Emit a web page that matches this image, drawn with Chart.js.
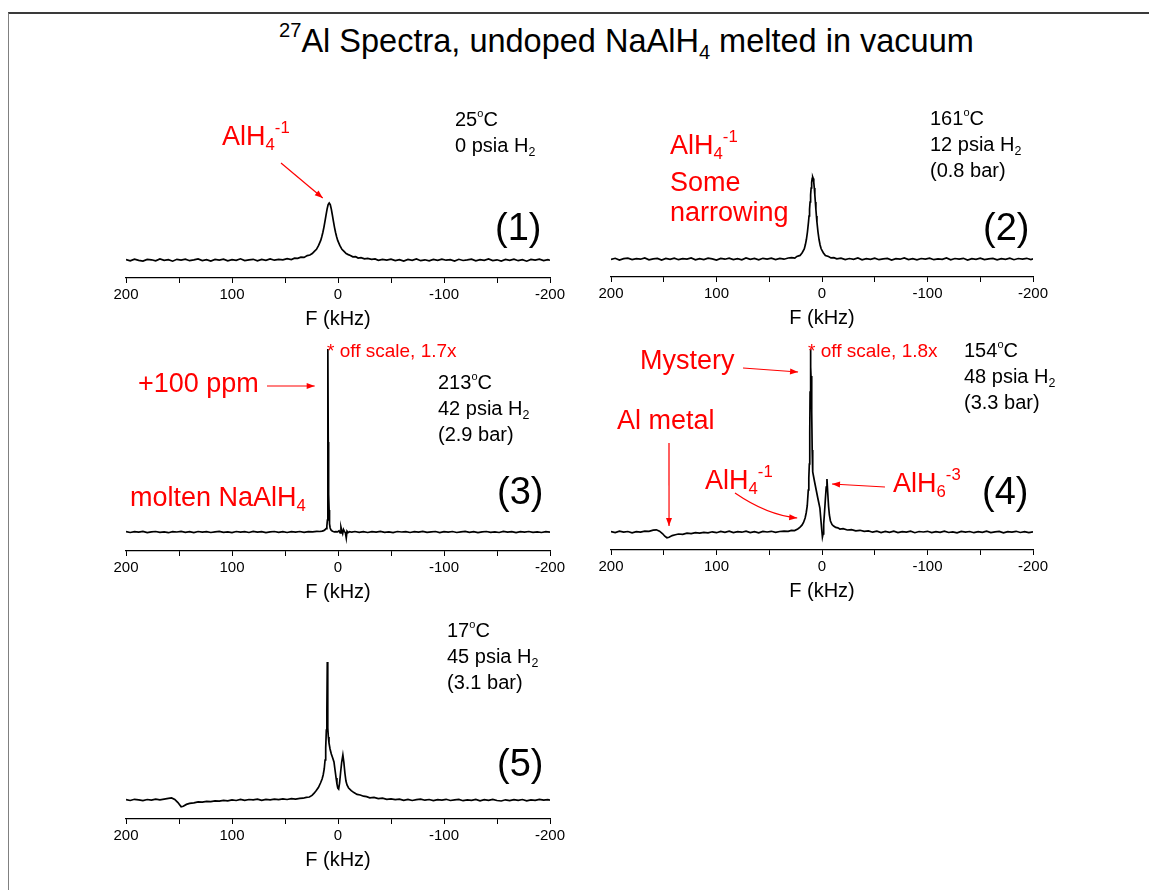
<!DOCTYPE html>
<html><head><meta charset="utf-8">
<script src="https://cdn.jsdelivr.net/npm/chart.js@4.4.1/dist/chart.umd.min.js"></script>
<style>
html,body{margin:0;padding:0;background:#fff;}
#page{position:relative;width:1149px;height:890px;overflow:hidden;font-family:"Liberation Sans",Arial,sans-serif;background:#fff;}
canvas{position:absolute;}
.t{position:absolute;white-space:nowrap;line-height:1;}
.sub{font-size:0.62em;position:relative;top:0.32em;}
.sup{font-size:0.62em;position:relative;top:-0.75em;}
.deg{font-size:0.55em;position:relative;top:-0.85em;}
#frame{position:absolute;left:8px;top:12px;width:1141px;height:878px;border-top:2px solid #3a3a3a;border-left:1px solid #808080;}
</style></head><body><div id="page"><div id="frame"></div></div>
<script>
// ---------- data: frequency (kHz), intensity (arb.) ----------
const spec1 = [[200,0.5],[196,-0.8],[192,0.9],[188,-0.3],[184,-1.1],[180,0.6],[176,0.2],[172,-0.9],[168,1.0],[164,-0.4],[160,0.3],[156,-1.2],[152,0.7],[148,-0.2],[144,0.8],[140,-0.7],[136,0.1],[132,1.1],[128,-0.5],[124,0.4],[120,-1.0],[116,0.6],[112,-0.1],[108,0.9],[104,-0.8],[100,0.3],[96,-0.4],[92,1.2],[88,-0.6],[84,0.2],[80,0.7],[76,-0.9],[72,0.5],[68,-0.3],[64,1.0],[60,-0.2],[56,0.6],[52,0.1],[48,1.4],[44,0.5],[41,1.8],[38,1.6],[35,2.9],[32,2.6],[29,4.4],[26.5,5.0],[24.3,6.4],[22.3,8.6],[20.3,10.7],[18.3,14.6],[16.3,19.6],[15.3,23.2],[14.3,27.5],[13.3,32.7],[12.3,38.6],[11.3,44.9],[10.3,50.9],[9.3,55.4],[8.3,57],[7.3,55.4],[6.3,50.9],[5.3,44.9],[4.3,38.6],[3.3,32.7],[2.3,27.5],[1.3,23.2],[0.3,19.6],[-1.7,14.6],[-3.7,10.7],[-5.7,8.6],[-7.7,6.4],[-9.7,5.4],[-11.7,4.6],[-14,3.2],[-16.7,3.3],[-19,2.0],[-21.7,2.4],[-25,1.1],[-28,1.6],[-31.7,0.6],[-35,1.1],[-38,-0.3],[-42,0.7],[-46,-0.2],[-50,0.8],[-54,-0.6],[-58,0.4],[-62,-1.0],[-66,0.5],[-70,-0.3],[-74,1.0],[-78,-0.7],[-82,0.2],[-86,-0.9],[-90,0.6],[-94,-0.4],[-98,0.9],[-102,-0.2],[-106,0.3],[-110,-1.1],[-114,0.7],[-118,-0.5],[-122,0.1],[-126,0.8],[-130,-0.8],[-134,0.4],[-138,-0.3],[-142,1.0],[-146,-0.6],[-150,0.2],[-154,-1.0],[-158,0.5],[-162,-0.4],[-166,0.9],[-170,-0.7],[-174,0.3],[-178,-1.2],[-182,0.6],[-186,-0.1],[-190,0.8],[-194,-0.5],[-198,0.4],[-200,-0.3]];

const spec2 = [[200,-0.4],[196,0.7],[192,-1.0],[188,0.3],[184,0.9],[180,-0.6],[176,0.4],[172,-0.2],[168,1.1],[164,-0.8],[160,0.2],[156,0.6],[152,-1.1],[148,0.5],[144,-0.3],[140,0.9],[136,-0.7],[132,0.3],[128,-0.1],[124,1.0],[120,-0.9],[116,0.4],[112,-0.5],[108,0.8],[104,0.1],[100,-1.0],[96,0.6],[92,-0.2],[88,0.9],[84,-0.6],[80,0.3],[76,-0.8],[72,1.1],[68,-0.3],[64,0.5],[60,-0.9],[56,0.7],[52,-0.1],[48,0.8],[44,-0.5],[40,0.6],[36,-0.2],[32,1.0],[28.8,1.3],[25.8,0.9],[23.8,2.6],[20.8,3.6],[18.8,6.3],[16.8,10.0],[15.8,14.2],[14.8,19.5],[13.8,27],[12.8,37],[12.3,43],[11.8,49.8],[11.3,57],[10.8,64.3],[10.3,71],[9.8,76.7],[9.3,80.6],[8.8,82],[8.3,80.6],[7.8,76.7],[7.3,71],[6.8,64.3],[6.3,57],[5.8,49.8],[5.3,43],[4.8,37],[3.8,27],[2.8,19.5],[1.8,14],[0.8,10.2],[-1.2,6.3],[-3.2,3.5],[-6.2,2.5],[-8.5,1.1],[-11.2,1.4],[-14,0.2],[-18,0.9],[-22,-0.6],[-26,0.5],[-30,-0.4],[-34,1.0],[-38,-0.8],[-42,0.3],[-46,-0.3],[-50,0.9],[-54,-0.7],[-58,0.2],[-62,0.6],[-66,-1.0],[-70,0.4],[-74,-0.2],[-78,1.1],[-82,-0.6],[-86,0.3],[-90,-0.9],[-94,0.5],[-98,-0.1],[-102,0.8],[-106,-0.7],[-110,0.2],[-114,-0.4],[-118,1.0],[-122,-0.8],[-126,0.5],[-130,-0.2],[-134,0.7],[-138,-1.0],[-142,0.4],[-146,-0.3],[-150,0.9],[-154,-0.6],[-158,0.1],[-162,0.6],[-166,-0.9],[-170,0.3],[-174,-0.4],[-178,0.8],[-182,-0.7],[-186,0.5],[-190,-0.2],[-194,0.7],[-198,-0.5],[-200,0.2]];

const spec3 = [[200,0.3],[196,-0.5],[192,0.4],[188,-0.2],[184,0.6],[180,-0.6],[176,0.1],[172,0.5],[168,-0.4],[164,0.2],[160,-0.7],[156,0.4],[152,0.0],[148,0.6],[144,-0.3],[140,0.3],[136,-0.6],[132,0.5],[128,-0.1],[124,0.4],[120,-0.5],[116,0.2],[112,0.6],[108,-0.4],[104,0.1],[100,-0.6],[96,0.5],[92,-0.2],[88,0.3],[84,-0.5],[80,0.6],[76,-0.1],[72,0.4],[68,-0.6],[64,0.2],[60,0.5],[56,-0.3],[52,0.3],[48,-0.5],[44,0.4],[40,-0.1],[36,0.5],[32,-0.3],[28,0.4],[24,0.2],[20,0.6],[17,0.5],[15,0.9],[13.5,1.4],[12.3,2.2],[11.3,3.4],[10.5,6],[10.0,12],[9.7,40],[9.45,183],[9.2,90],[9.0,42],[8.7,38],[8.4,22],[8.0,8],[7.4,4],[6.6,2],[5.5,1],[4.5,0.5],[3.5,0.2],[2,0.4],[0.5,0.1],[-1,1.2],[-2,-0.8],[-2.8,4.8],[-3.6,1.2],[-4.4,-1.6],[-5.2,2.4],[-6,0.6],[-7,-0.8],[-7.8,-6],[-8.5,0.8],[-9.5,-0.6],[-11,0.4],[-13,-0.2],[-16,0.5],[-20,-0.4],[-24,0.3],[-28,-0.5],[-32,0.4],[-36,-0.2],[-40,0.6],[-44,-0.4],[-48,0.2],[-52,-0.6],[-56,0.5],[-60,0.0],[-64,0.4],[-68,-0.5],[-72,0.3],[-76,-0.2],[-80,0.6],[-84,-0.4],[-88,0.1],[-92,0.5],[-96,-0.6],[-100,0.3],[-104,-0.1],[-108,0.5],[-112,-0.5],[-116,0.2],[-120,0.6],[-124,-0.3],[-128,0.4],[-132,-0.6],[-136,0.2],[-140,0.5],[-144,-0.4],[-148,0.1],[-152,-0.5],[-156,0.6],[-160,-0.2],[-164,0.4],[-168,-0.6],[-172,0.3],[-176,-0.1],[-180,0.5],[-184,-0.4],[-188,0.2],[-192,-0.5],[-196,0.4],[-200,-0.2]];

const spec4 = [[200,0.4],[196,-0.6],[192,0.8],[188,-0.2],[184,0.5],[180,-0.8],[176,0.3],[172,-0.1],[168,0.9],[164,0.6],[160,1.8],[157,2.2],[154,0.8],[151,-1.8],[149,-4.2],[147,-5.8],[145,-5.2],[142,-3.6],[139,-2.8],[136,-2.0],[132,-2.3],[128,-1.2],[124,-1.6],[120,-0.6],[116,-1.2],[112,-0.3],[108,-0.9],[104,0.2],[100,-0.7],[96,0.5],[92,-0.4],[88,0.8],[84,-0.6],[80,0.3],[76,-0.2],[72,0.9],[68,-0.5],[64,0.4],[60,-0.8],[56,0.6],[52,0.0],[48,0.7],[44,-0.4],[40,0.5],[36,0.9],[32,0.6],[29,1.6],[26,1.4],[23,3.0],[21,4.6],[19,6.8],[17.5,9.5],[16,14],[15,19],[14,26],[13,42],[12.5,54],[12,68],[11.6,100],[11.3,140],[11,175],[10.8,183],[10.5,165],[10.2,150],[9.9,156],[9.6,120],[9.3,82],[9,66],[8.6,60],[7,50],[5.5,42],[4,34],[3,29],[2,24],[1.2,14],[0.4,4],[-0.4,-5],[-1.0,-2],[-1.6,8],[-2.4,20],[-3.2,33],[-4,45],[-4.7,53],[-5.4,40],[-6.2,26],[-7,17],[-8,11],[-9.5,7.5],[-11,6.0],[-13,4.6],[-15,4.2],[-17,3.0],[-20,3.4],[-24,2.0],[-28,2.4],[-32,1.2],[-36,1.7],[-40,0.6],[-44,1.1],[-48,-0.2],[-52,0.8],[-56,-0.5],[-60,0.6],[-64,-0.3],[-68,0.9],[-72,-0.6],[-76,0.3],[-80,-0.2],[-84,0.8],[-88,-0.7],[-92,0.5],[-96,0.0],[-100,0.7],[-104,-0.6],[-108,0.4],[-112,-0.3],[-116,0.9],[-120,-0.5],[-124,0.2],[-128,-0.8],[-132,0.6],[-136,-0.1],[-140,0.5],[-144,-0.7],[-148,0.3],[-152,-0.4],[-156,0.8],[-160,-0.6],[-164,0.2],[-168,0.6],[-172,-0.8],[-176,0.4],[-180,-0.2],[-184,0.7],[-188,-0.5],[-192,0.3],[-196,-0.6],[-200,0.1]];

const spec5 = [[200,0.3],[196,-0.5],[192,0.7],[188,0.1],[184,-0.6],[180,0.5],[176,-0.2],[172,0.8],[168,0.2],[164,0.9],[160,1.6],[157,2.1],[154,0.6],[151,-2.6],[148,-6.8],[146,-6.2],[143,-4.4],[140,-3.4],[136,-2.8],[132,-1.9],[128,-2.2],[124,-1.3],[120,-1.6],[116,-0.8],[112,-1.1],[108,-0.3],[104,-0.8],[100,0.2],[96,-0.5],[92,0.6],[88,-0.3],[84,0.5],[80,0.1],[76,0.8],[72,-0.4],[68,0.6],[64,0.2],[60,0.9],[56,0.4],[52,1.1],[48,0.5],[44,1.3],[40,0.9],[36,1.6],[33,1.8],[30,2.6],[27,3.0],[24.5,4.6],[22.5,6.8],[20.5,9.5],[18.5,12.5],[16.5,17],[15,21],[14,25],[13,31],[12.2,40],[11.6,52],[11,70],[10.5,90],[10.1,138],[9.8,110],[9.5,72],[9.1,63],[8.5,57],[7.5,51],[6.3,46],[5,42],[3.8,38],[2.8,30],[1.8,22],[1,16],[0.2,12],[-0.6,11],[-1.5,17],[-2.5,28],[-3.5,38],[-4.6,45],[-5.5,38],[-6.5,27],[-7.5,19],[-8.5,15],[-10,12],[-12.5,9.3],[-15,7.4],[-18,5.6],[-21,5.0],[-24,3.8],[-27,3.4],[-30,2.2],[-34,2.6],[-38,1.4],[-42,1.8],[-46,0.7],[-50,1.2],[-54,0.3],[-58,0.9],[-62,-0.3],[-66,0.6],[-70,-0.5],[-74,0.4],[-78,0.9],[-82,-0.2],[-86,0.5],[-90,-0.6],[-94,0.3],[-98,-0.1],[-102,0.7],[-106,-0.5],[-110,0.2],[-114,0.6],[-118,-0.7],[-122,0.1],[-126,-0.4],[-130,0.5],[-134,-0.8],[-138,0.3],[-142,-0.3],[-146,0.6],[-150,-0.5],[-154,-1.0],[-158,0.2],[-162,-0.6],[-166,0.4],[-170,-0.3],[-174,0.5],[-178,-0.8],[-182,0.1],[-186,-0.4],[-190,0.6],[-194,-0.2],[-198,0.4],[-200,-0.1]];

const xTickValues = [200, 100, 0, -100, -200];
const xAxisTitle = 'F (kHz)';

const RED = '#ff0000';
const FONT = '"Liberation Sans", Arial, Helvetica, sans-serif';

// arrows: tail in page pixels (fx,fy), optional curve control (cx,cy), head in data units (tx,ty)
const panels = [
  {data: spec1, left:106, top:100, width:464, areaH:178, yMin:-18, yMax:160,
   arrows:[{fx:281, fy:163, tx:14.4, ty:62}]},
  {data: spec2, left:591, top:100, width:462, areaH:177, yMin:-18, yMax:159, arrows:[]},
  {data: spec3, left:106, top:340, width:464, areaH:211, yMin:-19, yMax:192,
   arrows:[{fx:267, fy:386, tx:22, ty:146}]},
  {data: spec4, left:591, top:340, width:462, areaH:210, yMin:-18, yMax:192,
   arrows:[{fx:743, fy:368, tx:22.7, ty:160},
           {fx:669, fy:443, tx:145, ty:6},
           {fx:735, fy:493, cx:767, cy:515, tx:23.5, ty:14},
           {fx:885, fy:487, tx:-9.5, ty:48}]},
  {data: spec5, left:106, top:610, width:464, areaH:209, yMin:-19, yMax:190, arrows:[]}
];

const labels = [
  {h:'<span class="sup">27</span>Al Spectra, undoped NaAlH<span class="sub">4</span> melted in vacuum', x:279, b:53, s:32.5, c:'#000'},
  {h:'AlH<span class="sub">4</span><span class="sup">-1</span>', x:222, b:146, s:27, c:RED},
  {h:'25<span class="deg">o</span>C', x:455, b:126, s:20, c:'#000'},
  {h:'0 psia H<span class="sub">2</span>', x:455, b:152, s:20, c:'#000'},
  {h:'(1)', x:495, b:240, s:38, c:'#000'},
  {h:'AlH<span class="sub">4</span><span class="sup">-1</span>', x:670, b:155, s:27, c:RED},
  {h:'Some', x:670, b:192, s:27, c:RED},
  {h:'narrowing', x:670, b:222, s:27, c:RED},
  {h:'161<span class="deg">o</span>C', x:930, b:125, s:20, c:'#000'},
  {h:'12 psia H<span class="sub">2</span>', x:930, b:151, s:20, c:'#000'},
  {h:'(0.8 bar)', x:930, b:177, s:20, c:'#000'},
  {h:'(2)', x:983, b:240, s:38, c:'#000'},
  {h:'* off scale, 1.7x', x:327, b:357, s:19, c:RED},
  {h:'+100 ppm', x:138, b:393, s:27, c:RED},
  {h:'213<span class="deg">o</span>C', x:438, b:389, s:20, c:'#000'},
  {h:'42 psia H<span class="sub">2</span>', x:438, b:415, s:20, c:'#000'},
  {h:'(2.9 bar)', x:438, b:441, s:20, c:'#000'},
  {h:'molten NaAlH<span class="sub">4</span>', x:130, b:507, s:27, c:RED},
  {h:'(3)', x:497, b:504, s:38, c:'#000'},
  {h:'Mystery', x:640, b:370, s:27, c:RED},
  {h:'* off scale, 1.8x', x:808, b:357, s:19, c:RED},
  {h:'154<span class="deg">o</span>C', x:964, b:357, s:20, c:'#000'},
  {h:'48 psia H<span class="sub">2</span>', x:964, b:383, s:20, c:'#000'},
  {h:'(3.3 bar)', x:964, b:409, s:20, c:'#000'},
  {h:'Al metal', x:617, b:430, s:27, c:RED},
  {h:'AlH<span class="sub">4</span><span class="sup">-1</span>', x:705, b:490, s:27, c:RED},
  {h:'AlH<span class="sub">6</span><span class="sup">-3</span>', x:893, b:493, s:27, c:RED},
  {h:'(4)', x:982, b:504, s:38, c:'#000'},
  {h:'17<span class="deg">o</span>C', x:447, b:637, s:20, c:'#000'},
  {h:'45 psia H<span class="sub">2</span>', x:447, b:663, s:20, c:'#000'},
  {h:'(3.1 bar)', x:447, b:689, s:20, c:'#000'},
  {h:'(5)', x:497, b:776, s:38, c:'#000'}
];

// ---------- drawing ----------
Chart.defaults.font.family = FONT;

const arrowPlugin = {
  id: 'arrows',
  afterDatasetsDraw(chart, args, opts) {
    const list = opts.list || [];
    const ctx = chart.ctx, xs = chart.scales.x, ys = chart.scales.y;
    for (const a of list) {
      const fx = a.fx - opts.left, fy = a.fy - opts.top;
      const tx = xs.getPixelForValue(a.tx), ty = ys.getPixelForValue(a.ty);
      ctx.save();
      ctx.strokeStyle = RED; ctx.fillStyle = RED; ctx.lineWidth = 1.2;
      ctx.beginPath(); ctx.moveTo(fx, fy);
      let dx, dy;
      if (a.cx !== undefined) {
        const cx = a.cx - opts.left, cy = a.cy - opts.top;
        ctx.quadraticCurveTo(cx, cy, tx, ty); dx = tx - cx; dy = ty - cy;
      } else { ctx.lineTo(tx, ty); dx = tx - fx; dy = ty - fy; }
      ctx.stroke();
      const L = Math.hypot(dx, dy), ux = dx / L, uy = dy / L, hl = 8, hw = 3;
      ctx.beginPath();
      ctx.moveTo(tx, ty);
      ctx.lineTo(tx - ux * hl - uy * hw, ty - uy * hl + ux * hw);
      ctx.lineTo(tx - ux * hl + uy * hw, ty - uy * hl - ux * hw);
      ctx.closePath(); ctx.fill();
      ctx.restore();
    }
  }
};

const page = document.getElementById('page');
const AXIS_H = 53;
panels.forEach(p => {
  const cv = document.createElement('canvas');
  const h = p.areaH + AXIS_H;
  cv.width = p.width; cv.height = h;
  cv.style.left = p.left + 'px'; cv.style.top = p.top + 'px';
  cv.style.width = p.width + 'px'; cv.style.height = h + 'px';
  page.appendChild(cv);
  new Chart(cv, {
    type: 'line',
    data: {datasets: [{data: p.data.map(([x, y]) => ({x, y})), borderColor: '#000', borderWidth: 1.7,
      pointRadius: 0, tension: 0, fill: false}]},
    options: {
      responsive: false, animation: false, devicePixelRatio: 1,
      layout: {padding: {left: 20, right: 20, top: 0, bottom: 0}},
      plugins: {legend: {display: false}, tooltip: {enabled: false},
        arrows: {list: p.arrows, left: p.left, top: p.top}},
      scales: {
        x: {type: 'linear', min: -200, max: 200, reverse: true,
          ticks: {stepSize: 50, autoSkip: false, maxRotation: 0, color: '#000', padding: 3,
            font: {size: 15, family: FONT},
            callback: v => xTickValues.includes(v) ? String(v) : ''},
          grid: {drawOnChartArea: false, drawTicks: true, tickLength: 5, color: '#000', lineWidth: 1},
          border: {display: true, color: '#000', width: 1.2},
          title: {display: true, text: xAxisTitle, color: '#000', font: {size: 20, family: FONT},
            padding: {top: 0, bottom: 0}}},
        y: {display: false, min: p.yMin, max: p.yMax}
      }
    },
    plugins: [arrowPlugin]
  });
});

labels.forEach(l => {
  const d = document.createElement('div');
  d.className = 't';
  d.innerHTML = l.h;
  d.style.left = l.x + 'px';
  d.style.top = (l.b - 0.8465 * l.s) + 'px';
  d.style.fontSize = l.s + 'px';
  d.style.color = l.c;
  page.appendChild(d);
});
</script>
</body></html>
